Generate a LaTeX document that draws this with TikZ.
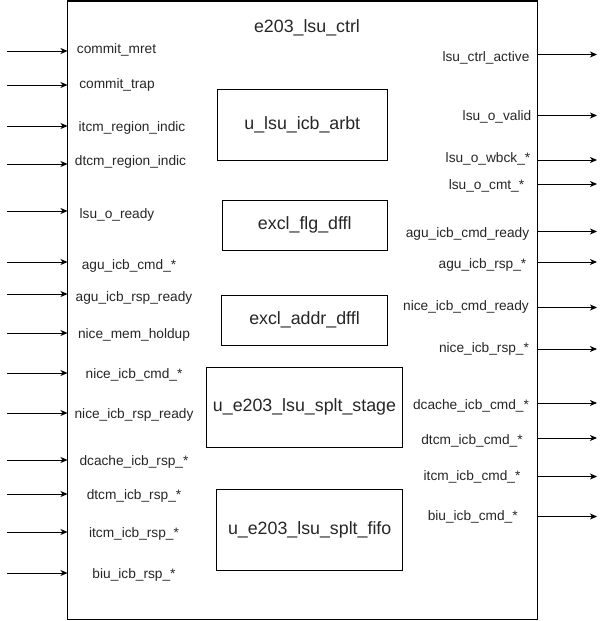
\documentclass[tikz,border=0pt]{standalone}
\usepackage{fontspec}
\setmainfont{Liberation Sans}
\usetikzlibrary{arrows.meta}
\begin{document}
\begin{tikzpicture}[x=1pt,y=-1pt,
  sig/.style={font=\fontsize{13.7}{16}\selectfont, inner sep=0pt, anchor=center, yshift=-1.5pt, text=black!85},
  blk/.style={draw=black, line width=1pt, inner sep=0pt, font=\fontsize{17.8}{20}\selectfont, text=black!85},
  arr/.style={line width=1pt, -{Stealth[length=7pt,width=6pt,inset=2pt]}}
]
\useasboundingbox (0,0) rectangle (608,621);
\fill[white] (0,0) rectangle (608,621);
% outer module
\node[draw=black, line width=1pt, minimum width=470pt, minimum height=618.5pt, inner sep=0pt] (top) at (302.5,310.25) {};
\node[sig, font=\fontsize{17.8}{20}\selectfont] (title) at (307,26) {e203\_lsu\_ctrl};
% inner blocks
\node[blk, minimum width=170pt, minimum height=70.7pt] (arbt) at (302.3,125.3) {u\_lsu\_icb\_arbt};
\node[blk, minimum width=165pt, minimum height=50.3pt] (flg) at (304.8,225.2) {excl\_flg\_dffl};
\node[blk, minimum width=165.6pt, minimum height=50pt] (addr) at (304.5,320.3) {excl\_addr\_dffl};
\node[blk, minimum width=195.6pt, minimum height=80pt] (stage) at (304.5,407.3) {u\_e203\_lsu\_splt\_stage};
\node[blk, minimum width=186pt, minimum height=81pt] (fifo) at (309.7,529.5) {u\_e203\_lsu\_splt\_fifo};
% inputs
\foreach \n/\ya/\xt/\yt/\txt in {
  1/51/116.5/48/commit\_mret,
  2/85/117/83/commit\_trap,
  3/126/132/126/itcm\_region\_indic,
  4/164/130.5/160/dtcm\_region\_indic,
  5/211/117/213/lsu\_o\_ready,
  6/262/129/264/agu\_icb\_cmd\_*,
  7/294/134/296/agu\_icb\_rsp\_ready,
  8/333/134/333/nice\_mem\_holdup,
  9/373/134/373/nice\_icb\_cmd\_*,
  10/413/134/413/nice\_icb\_rsp\_ready,
  11/460/134/460/dcache\_icb\_rsp\_*,
  12/494/134/494/dtcm\_icb\_rsp\_*,
  13/532/134/532/itcm\_icb\_rsp\_*,
  14/573/134/573/biu\_icb\_rsp\_*}{
  \coordinate (in\n) at (7,\ya);
  \coordinate (ie\n) at (67.5,\ya);
  \draw[arr] (in\n) -- (ie\n);
  \node[sig] (il\n) at (\xt,\yt) {\txt};
}
% outputs
\foreach \n/\ya/\xt/\yt/\txt in {
  1/54.5/486/56/lsu\_ctrl\_active,
  2/115.5/497/115/lsu\_o\_valid,
  3/160/488/157/lsu\_o\_wbck\_*,
  4/184/486.5/184/lsu\_o\_cmt\_*,
  5/231.5/467.5/232/agu\_icb\_cmd\_ready,
  6/262/482.5/263/agu\_icb\_rsp\_*,
  7/307.5/466/305/nice\_icb\_cmd\_ready,
  8/349/484/347/nice\_icb\_rsp\_*,
  9/403/471/404/dcache\_icb\_cmd\_*,
  10/438/472/439/dtcm\_icb\_cmd\_*,
  11/476.5/472/475.5/itcm\_icb\_cmd\_*,
  12/516.5/472.7/515/biu\_icb\_cmd\_*}{
  \coordinate (os\n) at (537.5,\ya);
  \coordinate (oe\n) at (597,\ya);
  \draw[arr] (os\n) -- (oe\n);
  \node[sig] (ol\n) at (\xt,\yt) {\txt};
}
\end{tikzpicture}
\end{document}
